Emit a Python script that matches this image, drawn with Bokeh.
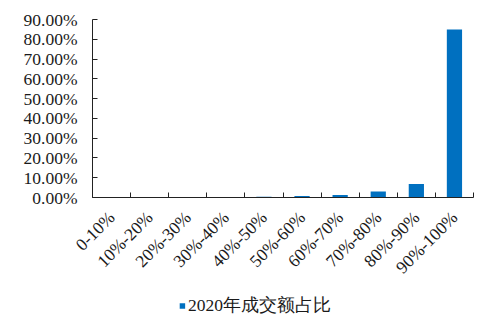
from bokeh.plotting import figure
from bokeh.models import (Range1d, FixedTicker, NumeralTickFormatter, Legend, LegendItem, ColumnDataSource)
from bokeh.layouts import column
from bokeh.embed import file_html
from bokeh.resources import INLINE
import math

categories = ["0-10%", "10%-20%", "20%-30%", "30%-40%", "40%-50%",
              "50%-60%", "60%-70%", "70%-80%", "80%-90%", "90%-100%"]
share_2020 = [0.001, 0.001, 0.0015, 0.002, 0.004, 0.007, 0.013, 0.030, 0.068, 0.849]
y_ticks = [0.0, 0.1, 0.2, 0.3, 0.4, 0.5, 0.6, 0.7, 0.8, 0.9]
series_name = "2020年成交额占比"

BLUE = "#0070C0"
FONT = "serif"
TXT = "#1a1a1a"
FS = "17.5px"

positions = list(range(1, len(categories) + 1))
src = ColumnDataSource(dict(x=positions, top=share_2020, cat=categories))

p = figure(width=500, height=290, output_backend="svg", toolbar_location=None,
           x_range=Range1d(0.5, len(categories) + 0.5), y_range=Range1d(0, 0.9),
           min_border_left=92, min_border_right=27, min_border_top=19, min_border_bottom=93)
p.outline_line_color = None
p.grid.visible = False
p.background_fill_color = "white"

r = p.vbar(x="x", top="top", width=0.4, source=src, fill_color=BLUE, line_color=None)

# x axis
xa = p.xaxis[0]
xa.ticker = FixedTicker(ticks=positions,
                        minor_ticks=[i + 0.5 for i in range(0, len(categories) + 1)])
xa.major_label_overrides = {pos: c for pos, c in zip(positions, categories)}
xa.major_label_orientation = math.pi / 4
xa.major_tick_line_color = None
xa.minor_tick_in = 5
xa.minor_tick_out = 0
xa.minor_tick_line_color = "#222"
xa.axis_line_color = "#222"
xa.major_label_text_font = FONT
xa.major_label_text_font_size = FS
xa.major_label_text_color = TXT
xa.major_label_standoff = 11

# y axis
ya = p.yaxis[0]
ya.ticker = FixedTicker(ticks=y_ticks)
ya.formatter = NumeralTickFormatter(format="0.00%")
ya.major_tick_in = 5
ya.major_tick_out = 0
ya.minor_tick_line_color = None
ya.major_tick_line_color = "#222"
ya.axis_line_color = "#222"
ya.major_label_text_font = FONT
ya.major_label_text_font_size = FS
ya.major_label_text_color = TXT
ya.major_label_standoff = 15

# legend strip below the chart (its frame aligns with the chart's frame;
# the legend's bar renderer is hidden so only the legend swatch shows)
pl = figure(width=500, height=42, output_backend="svg", toolbar_location=None,
            x_range=p.x_range, y_range=Range1d(2, 3),
            x_axis_location=None, y_axis_location=None,
            min_border_left=92, min_border_right=27, min_border_top=0, min_border_bottom=12)
pl.outline_line_color = None
pl.grid.visible = False
lr = pl.vbar(x="x", top="top", width=0.4, source=src, fill_color=BLUE, line_color=None)
lr.visible = False
legend = Legend(items=[LegendItem(label=series_name, renderers=[lr])],
                location="center", orientation="horizontal", click_policy="none",
                border_line_color=None, background_fill_alpha=0,
                inactive_fill_alpha=0,
                label_text_font=FONT, label_text_font_size=FS, label_text_color=TXT,
                glyph_width=7, glyph_height=7, label_standoff=3, label_width=199,
                padding=0, margin=0)
pl.add_layout(legend, "center")

layout = column(p, pl, spacing=0)
open("out.html", "w").write(file_html(layout, INLINE))
